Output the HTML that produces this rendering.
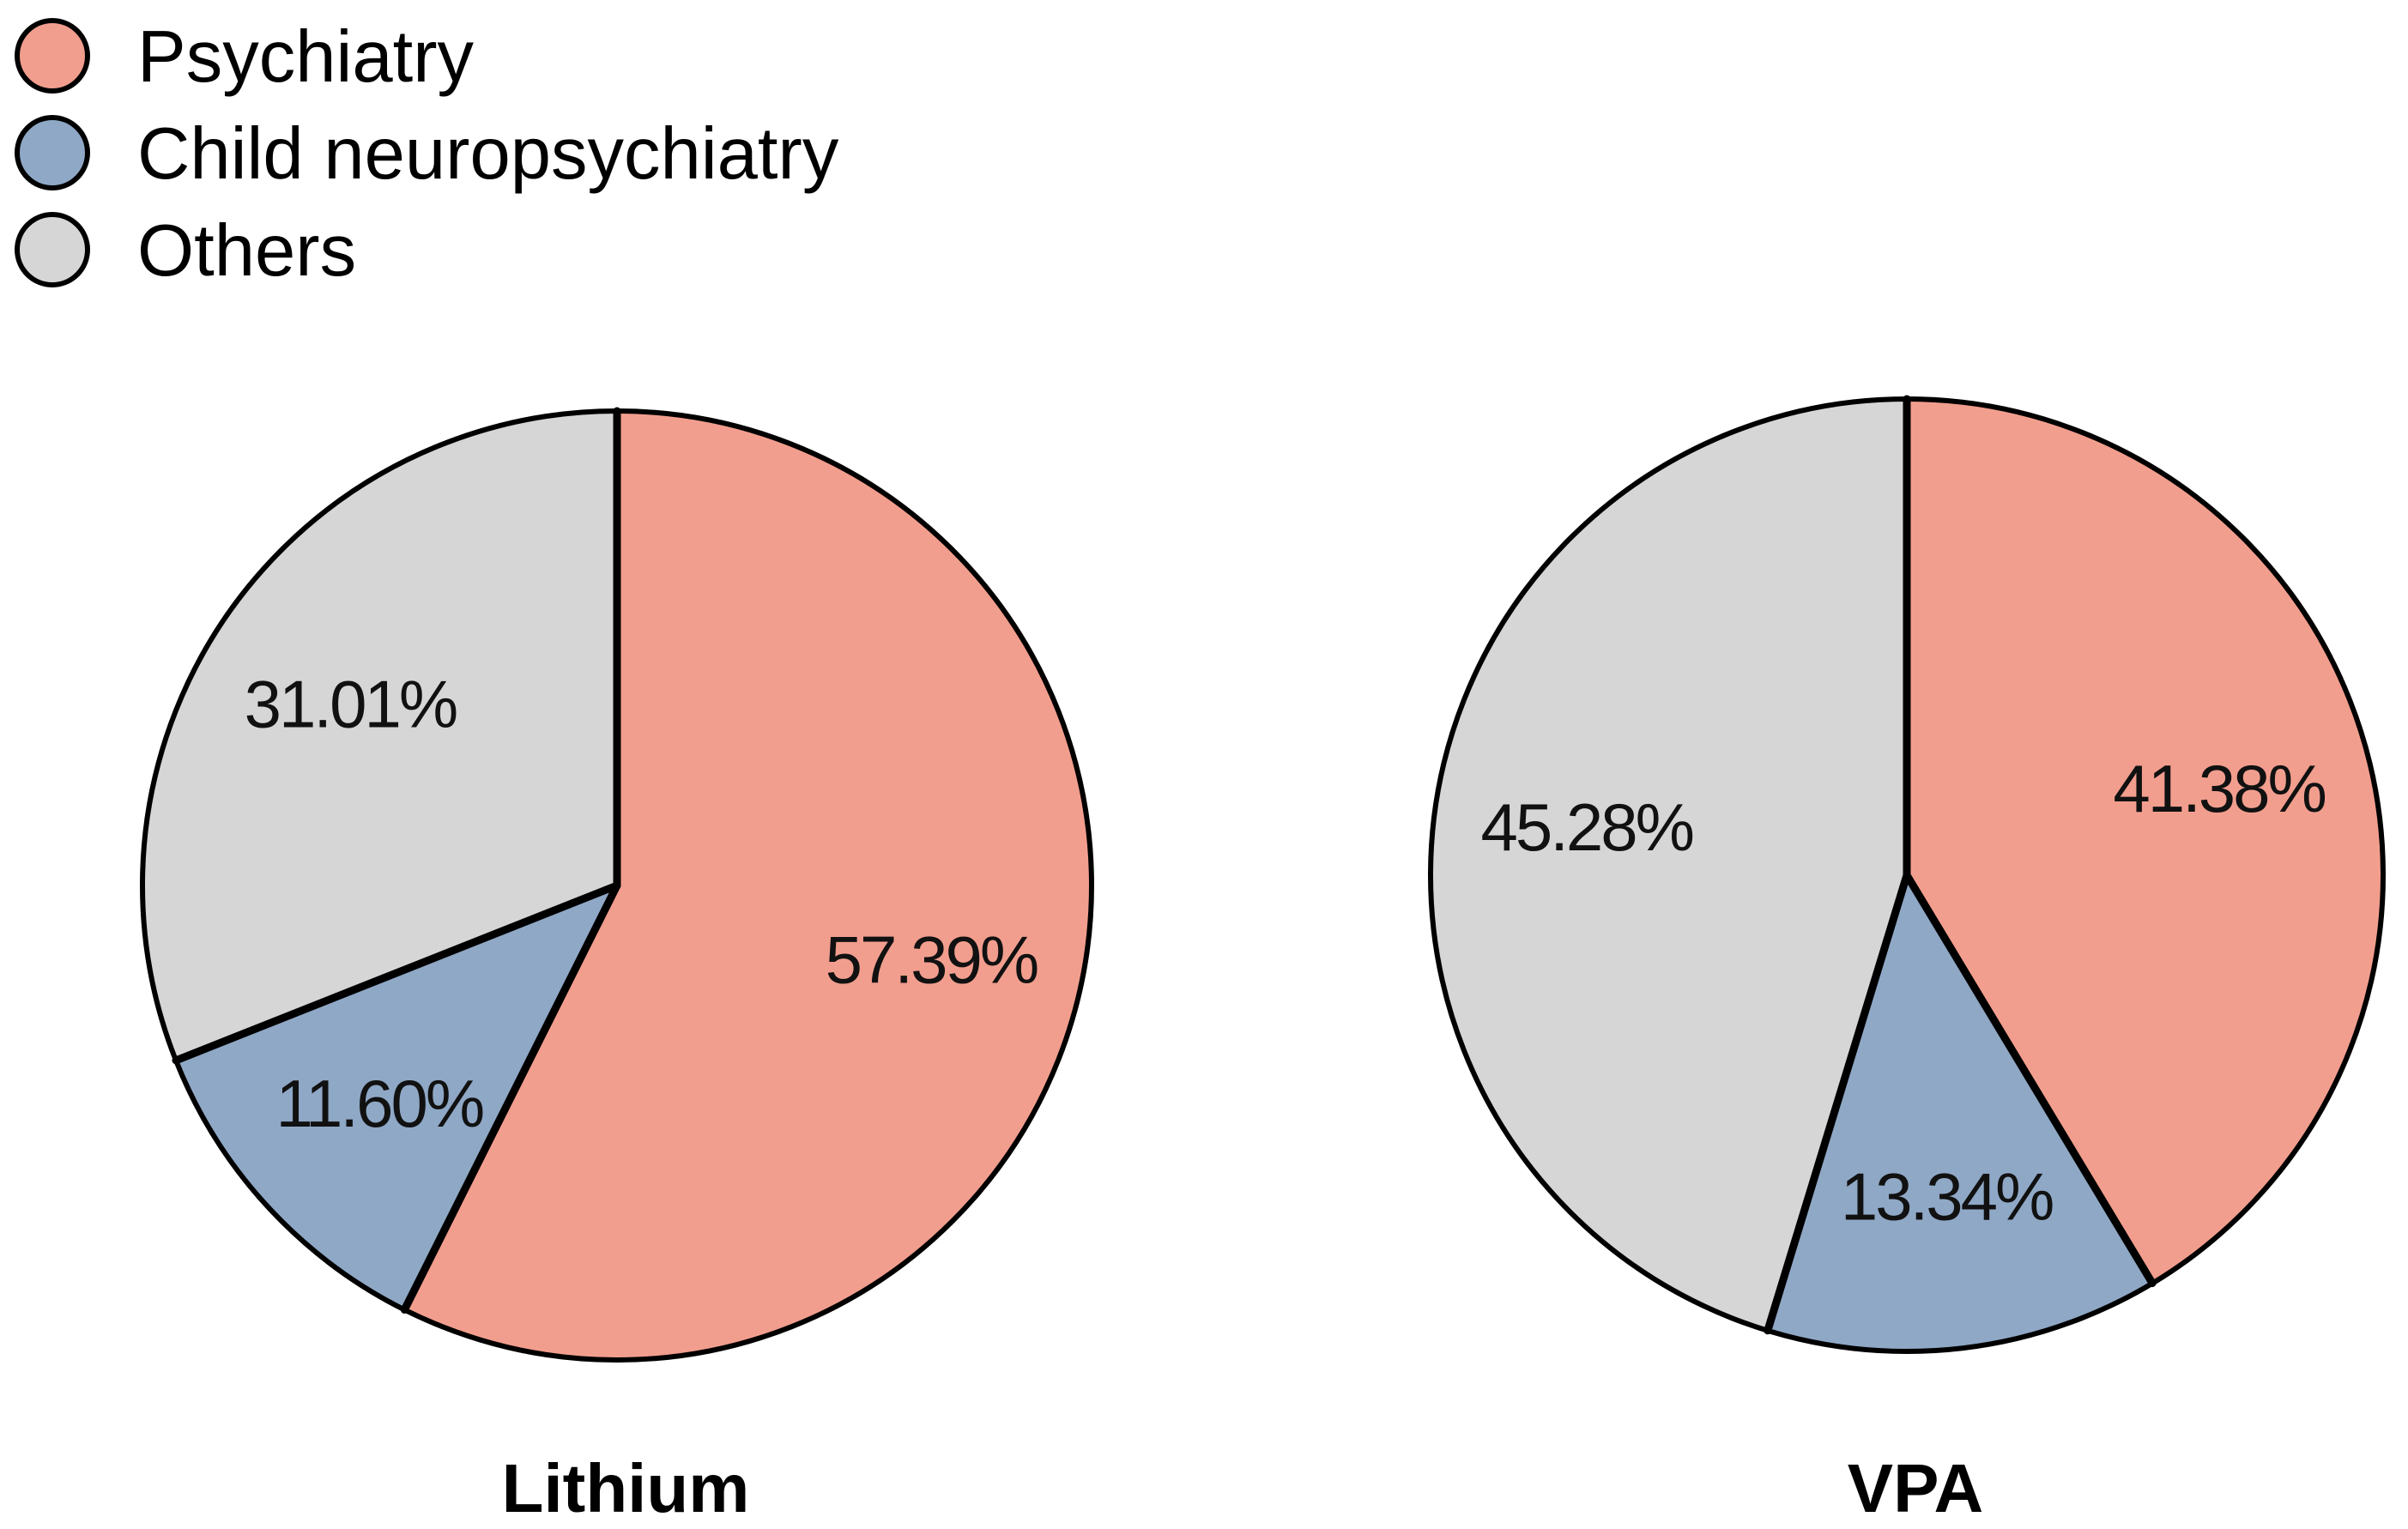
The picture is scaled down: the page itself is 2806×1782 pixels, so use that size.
<!DOCTYPE html>
<html><head><meta charset="utf-8"><style>
html,body{margin:0;padding:0;background:#fff;}
svg{display:block;font-family:"Liberation Sans",Arial,sans-serif;}
</style></head><body>
<svg id="chart" width="2806" height="1782" viewBox="0 0 2806 1782" xmlns="http://www.w3.org/2000/svg">
<g>
  <g>
    <circle cx="61" cy="65" r="41" fill="#F29E8E" stroke="#000" stroke-width="6"/>
    <text x="160" y="95" font-size="85" fill="#000">Psychiatry</text>
  </g>
  <g>
    <circle cx="61" cy="178" r="41" fill="#8FA8C6" stroke="#000" stroke-width="6"/>
    <text x="160" y="208" font-size="85" fill="#000">Child neuropsychiatry</text>
  </g>
  <g>
    <circle cx="61" cy="291" r="41" fill="#D6D6D6" stroke="#000" stroke-width="6"/>
    <text x="160" y="321" font-size="85" fill="#000">Others</text>
  </g>
</g>
<g id="pies"></g>
</svg>
<script>
const categories = ["Psychiatry", "Child neuropsychiatry", "Others"];
const lithiumValues = [57.39, 11.60, 31.01];
const vpaValues = [41.38, 13.34, 45.28];
const lithiumLabels = ["57.39%", "11.60%", "31.01%"];
const vpaLabels = ["41.38%", "13.34%", "45.28%"];
const chartTitles = ["Lithium", "VPA"];

const colors = ["#F29E8E", "#8FA8C6", "#D6D6D6"];
const NS = "http://www.w3.org/2000/svg";
const root = document.getElementById("pies");

function pt(cx, cy, r, frac) {
  const a = frac * 2 * Math.PI;
  return [cx + r * Math.sin(a), cy - r * Math.cos(a)];
}

function drawPie(values, labels, title, cx, cy, r, labelR, key) {
  const g = document.createElementNS(NS, "g");
  
  
  root.appendChild(g);
  const total = values.reduce((a, b) => a + b, 0);
  let acc = 0;
  const bounds = [];
  values.forEach((v, i) => {
    const s = acc / total, e = (acc + v) / total;
    bounds.push(s);
    const p0 = pt(cx, cy, r, s), p1 = pt(cx, cy, r, e);
    const large = (e - s) > 0.5 ? 1 : 0;
    const path = document.createElementNS(NS, "path");
    path.setAttribute("d", `M${cx},${cy} L${p0[0]},${p0[1]} A${r},${r} 0 ${large} 1 ${p1[0]},${p1[1]} Z`);
    path.setAttribute("fill", colors[i]);
    
    
    g.appendChild(path);
    acc += v;
  });
  const outline = document.createElementNS(NS, "circle");
  outline.setAttribute("cx", cx); outline.setAttribute("cy", cy); outline.setAttribute("r", r);
  outline.setAttribute("fill", "none"); outline.setAttribute("stroke", "#000"); outline.setAttribute("stroke-width", "6");
  
  
  g.appendChild(outline);
  bounds.forEach(b => {
    const p = pt(cx, cy, r, b);
    const ln = document.createElementNS(NS, "line");
    ln.setAttribute("x1", cx); ln.setAttribute("y1", cy);
    ln.setAttribute("x2", p[0]); ln.setAttribute("y2", p[1]);
    ln.setAttribute("stroke", "#000"); ln.setAttribute("stroke-width", "9");
    ln.setAttribute("stroke-linecap", "round");
    
    
    g.appendChild(ln);
  });
  acc = 0;
  values.forEach((v, i) => {
    const mid = (acc + v / 2) / total;
    const lr = labelR[i];
    const p = pt(cx, cy, r * lr, mid);
    const t = document.createElementNS(NS, "text");
    t.setAttribute("x", p[0]); t.setAttribute("y", p[1] + 27);
    t.setAttribute("text-anchor", "middle");
    t.setAttribute("font-size", "78");
    t.setAttribute("letter-spacing", "-3");
    t.setAttribute("fill", "#111");
    
    
    t.textContent = labels[i];
    g.appendChild(t);
    acc += v;
  });
  const tt = document.createElementNS(NS, "text");
  tt.setAttribute("x", cx + 10); tt.setAttribute("y", 1762);
  tt.setAttribute("text-anchor", "middle");
  tt.setAttribute("font-size", "80");
  tt.setAttribute("font-weight", "bold");
  tt.setAttribute("fill", "#000");
  
  
  tt.textContent = title;
  g.appendChild(tt);
}

drawPie(lithiumValues, lithiumLabels, chartTitles[0], 719, 1032, 553, [0.68, 0.68, 0.68], "lithium");
drawPie(vpaValues, vpaLabels, chartTitles[1], 2222, 1020, 555, [0.68, 0.68, 0.68], "vpa");
</script>
</body></html>
